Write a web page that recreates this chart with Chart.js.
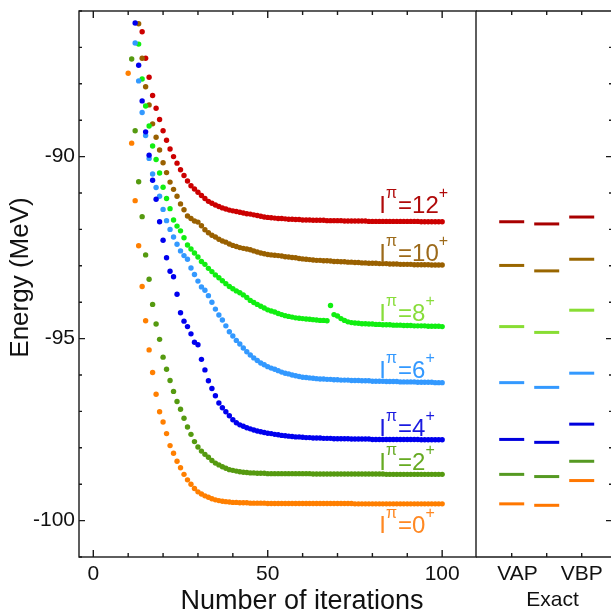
<!DOCTYPE html>
<html><head><meta charset="utf-8">
<script src="https://cdn.jsdelivr.net/npm/chart.js@4.4.1/dist/chart.umd.min.js"></script>
<style>
html,body{margin:0;padding:0;background:#fff;}
#wrap{position:relative;width:611px;height:616px;overflow:hidden;background:#fff;}
#c1{position:absolute;left:0;top:0;}
#c2{position:absolute;left:476px;top:0;}
</style></head><body>
<div id="wrap"><canvas id="c1" width="477" height="616"></canvas><canvas id="c2" width="137" height="616"></canvas></div>
<script>
// ---------- data ----------
const states = ['0', '2', '4', '6', '8', '10', '12'];
const startIter = [10, 11, 12, 12, 13, 13, 14];

const e0 = [-87.71,-89.63,-91.21,-92.45,-93.57,-94.51,-95.31,-95.93,-96.53,-97.01,
 -97.29,-97.61,-97.94,-98.15,-98.37,-98.55,-98.73,-98.88,-99.00,-99.12,
 -99.21,-99.27,-99.32,-99.36,-99.40,-99.43,-99.45,-99.47,-99.48,-99.49,
 -99.50,-99.50,-99.51,-99.51,-99.51,-99.52,-99.52,-99.52,-99.52,-99.52,
 -99.53,-99.53,-99.53,-99.53,-99.53,-99.53,-99.53,-99.53,-99.53,-99.53,
 -99.53,-99.53,-99.53,-99.53,-99.53,-99.53,-99.53,-99.53,-99.53,-99.53,
 -99.53,-99.53,-99.53,-99.53,-99.53,-99.54,-99.54,-99.54,-99.54,-99.54,
 -99.54,-99.54,-99.54,-99.54,-99.54,-99.54,-99.54,-99.54,-99.54,-99.54,
 -99.54,-99.54,-99.54,-99.54,-99.54,-99.54,-99.54,-99.54,-99.54,-99.54,-99.54];

const e2 = [-87.32,-89.29,-90.69,-91.65,-92.70,-93.37,-94.06,-94.60,-95.02,-95.51,
 -95.84,-96.15,-96.45,-96.73,-96.94,-97.19,-97.43,-97.63,-97.83,-97.98,
 -98.09,-98.18,-98.26,-98.35,-98.42,-98.47,-98.52,-98.56,-98.60,-98.62,
 -98.64,-98.66,-98.67,-98.68,-98.69,-98.69,-98.70,-98.70,-98.70,-98.71,
 -98.71,-98.71,-98.71,-98.71,-98.71,-98.71,-98.71,-98.71,-98.71,-98.71,
 -98.71,-98.71,-98.72,-98.72,-98.72,-98.72,-98.72,-98.72,-98.72,-98.72,
 -98.72,-98.72,-98.72,-98.72,-98.72,-98.72,-98.72,-98.72,-98.72,-98.72,
 -98.72,-98.72,-98.72,-98.73,-98.73,-98.73,-98.73,-98.73,-98.73,-98.73,
 -98.73,-98.73,-98.73,-98.73,-98.73,-98.73,-98.73,-98.73,-98.73,-98.73];

const e4 = [-86.33,-87.49,-88.47,-89.32,-89.96,-90.65,-91.17,-91.79,-92.30,-92.78,
 -93.15,-93.30,-93.78,-94.29,-94.52,-94.67,-94.87,-95.10,-95.17,-95.57,
 -95.86,-96.16,-96.37,-96.57,-96.77,-96.90,-97.01,-97.12,-97.23,-97.31,
 -97.37,-97.41,-97.45,-97.48,-97.51,-97.54,-97.56,-97.58,-97.60,-97.61,
 -97.63,-97.64,-97.66,-97.67,-97.68,-97.69,-97.70,-97.70,-97.71,-97.72,
 -97.72,-97.73,-97.73,-97.73,-97.74,-97.74,-97.74,-97.75,-97.75,-97.75,
 -97.75,-97.75,-97.76,-97.76,-97.76,-97.76,-97.76,-97.76,-97.77,-97.77,
 -97.77,-97.77,-97.77,-97.77,-97.77,-97.77,-97.77,-97.77,-97.77,-97.77,
 -97.77,-97.77,-97.78,-97.78,-97.78,-97.78,-97.78,-97.78,-97.78];

const e6 = [-86.88,-87.92,-88.79,-89.42,-90.05,-90.48,-90.85,-91.09,-91.45,-91.76,
 -92.00,-92.21,-92.41,-92.59,-92.72,-92.82,-93.06,-93.24,-93.42,-93.58,
 -93.67,-93.82,-94.00,-94.19,-94.35,-94.49,-94.65,-94.81,-94.93,-95.05,
 -95.15,-95.26,-95.36,-95.45,-95.53,-95.60,-95.67,-95.72,-95.77,-95.81,
 -95.84,-95.88,-95.92,-95.95,-95.97,-96.00,-96.02,-96.04,-96.06,-96.07,
 -96.08,-96.09,-96.10,-96.11,-96.11,-96.12,-96.12,-96.13,-96.13,-96.14,
 -96.14,-96.14,-96.15,-96.15,-96.15,-96.16,-96.16,-96.16,-96.17,-96.17,
 -96.17,-96.17,-96.18,-96.18,-96.18,-96.18,-96.19,-96.19,-96.19,-96.19,
 -96.19,-96.20,-96.20,-96.20,-96.20,-96.20,-96.21,-96.21,-96.21];

const e8 = [-86.91,-87.87,-88.61,-89.16,-89.71,-90.08,-90.45,-90.84,-91.15,-91.43,
 -91.74,-91.91,-92.04,-92.23,-92.43,-92.54,-92.65,-92.76,-92.88,-92.96,
 -93.07,-93.16,-93.25,-93.33,-93.41,-93.49,-93.57,-93.63,-93.69,-93.74,
 -93.80,-93.87,-93.95,-94.01,-94.06,-94.11,-94.16,-94.21,-94.24,-94.27,
 -94.31,-94.34,-94.37,-94.39,-94.41,-94.43,-94.44,-94.45,-94.46,-94.47,
 -94.48,-94.49,-94.50,-94.50,-94.51,-94.09,-94.34,-94.38,-94.45,-94.50,
 -94.54,-94.56,-94.57,-94.58,-94.59,-94.59,-94.60,-94.60,-94.61,-94.61,
 -94.62,-94.62,-94.62,-94.63,-94.63,-94.63,-94.64,-94.64,-94.64,-94.65,
 -94.65,-94.65,-94.65,-94.66,-94.66,-94.66,-94.66,-94.67];

const e10 = [-86.35,-87.30,-88.08,-88.58,-89.10,-89.47,-89.82,-90.17,-90.44,-90.70,
 -90.90,-91.09,-91.30,-91.46,-91.63,-91.70,-91.77,-91.80,-91.90,-92.01,
 -92.09,-92.16,-92.21,-92.27,-92.32,-92.35,-92.40,-92.44,-92.47,-92.50,
 -92.52,-92.54,-92.56,-92.59,-92.62,-92.65,-92.67,-92.69,-92.70,-92.71,
 -92.72,-92.73,-92.75,-92.76,-92.77,-92.78,-92.80,-92.81,-92.82,-92.83,
 -92.84,-92.85,-92.85,-92.86,-92.86,-92.87,-92.88,-92.88,-92.89,-92.89,
 -92.90,-92.90,-92.91,-92.91,-92.92,-92.92,-92.93,-92.93,-92.93,-92.94,
 -92.94,-92.94,-92.95,-92.95,-92.95,-92.96,-92.96,-92.96,-92.96,-92.97,
 -92.97,-92.97,-92.97,-92.97,-92.98,-92.98,-92.98,-92.98];

const e12 = [-86.57,-87.30,-87.82,-88.32,-88.67,-88.98,-89.29,-89.55,-89.79,-90.00,
 -90.18,-90.36,-90.52,-90.67,-90.80,-90.89,-90.98,-91.07,-91.15,-91.23,
 -91.28,-91.33,-91.37,-91.41,-91.44,-91.47,-91.49,-91.51,-91.53,-91.55,
 -91.57,-91.58,-91.60,-91.62,-91.64,-91.66,-91.67,-91.68,-91.69,-91.70,
 -91.70,-91.71,-91.72,-91.72,-91.73,-91.73,-91.74,-91.74,-91.74,-91.75,
 -91.75,-91.75,-91.75,-91.76,-91.76,-91.76,-91.76,-91.76,-91.77,-91.77,
 -91.77,-91.77,-91.77,-91.77,-91.77,-91.78,-91.78,-91.78,-91.78,-91.78,
 -91.78,-91.78,-91.78,-91.78,-91.78,-91.78,-91.78,-91.78,-91.78,-91.78,
 -91.79,-91.79,-91.79,-91.79,-91.79,-91.79,-91.79];

// converged levels (right panel), order 0+,2+,...,12+
const methodNames = ['VAP', 'Exact', 'VBP'];
const vap   = [-99.54, -98.73, -97.77, -96.21, -94.67, -92.99, -91.79];
const exact = [-99.58, -98.79, -97.85, -96.34, -94.83, -93.14, -91.85];
const vbp   = [-98.90, -98.37, -97.35, -95.95, -94.22, -92.82, -91.66];

// ticks
const xTickValues = [0, 10, 20, 30, 40, 50, 60, 70, 80, 90, 100];
const xTickLabels = {0: '0', 50: '50', 100: '100'};
const yTickValues = [-101,-100,-99,-98,-97,-96,-95,-94,-93,-92,-91,-90,-89,-88,-87,-86];
const yTickLabels = {'-100': '-100', '-95': '-95', '-90': '-90'};
const xTitle = 'Number of iterations';
const yTitle = 'Energy (MeV)';

// ---------- styles ----------
const pointColors = ['#ff7f00', '#559a10', '#0000ee', '#3399ff', '#11ee11', '#996000', '#cc0000'];
const labelColors = ['#ff8822', '#66aa22', '#1a1ae0', '#3399ff', '#88dd3a', '#9c6a1a', '#b00a0a'];
const levelColors = ['#ff7700', '#559922', '#0000dd', '#3399ff', '#88dd33', '#996600', '#a80000'];
const labelX = 82;
const labelY = [-100.35, -98.61, -97.67, -96.07, -94.51, -92.87, -91.55];

const F = "'Liberation Sans', Arial, Helvetica, sans-serif";
Chart.defaults.font.family = F;
Chart.defaults.color = '#111';

const energies = [e0, e2, e4, e6, e8, e10, e12];
const noPad = s => { s.paddingTop = 0; s.paddingBottom = 0; s.paddingLeft = 0; s.paddingRight = 0; };

const frame1 = {
  id: 'frame1',
  afterDatasetsDraw(chart) {
    const {ctx, chartArea: a, scales: {x, y}} = chart;
    ctx.save();
    ctx.strokeStyle = '#1a1a1a';
    ctx.lineWidth = 1.4;
    ctx.strokeRect(a.left, a.top, a.right - a.left, a.bottom - a.top);
    ctx.beginPath();
    x.ticks.forEach(t => {
      const px = x.getPixelForValue(t.value);
      const L = t.value % 50 === 0 ? 7 : 4;
      ctx.moveTo(px, a.bottom); ctx.lineTo(px, a.bottom - L);
      ctx.moveTo(px, a.top); ctx.lineTo(px, a.top + L);
    });
    y.ticks.forEach(t => {
      const py = y.getPixelForValue(t.value);
      const L = t.value % 5 === 0 ? 6 : 3;
      ctx.moveTo(a.left, py); ctx.lineTo(a.left + L, py);
    });
    ctx.stroke();
    // axis titles
    ctx.fillStyle = '#111';
    ctx.font = '27px ' + F;
    ctx.textAlign = 'center';
    ctx.textBaseline = 'alphabetic';
    ctx.fillText(xTitle, 302, 609);
    ctx.font = '26px ' + F;
    ctx.translate(21, 277.5);
    ctx.rotate(-Math.PI / 2);
    ctx.textBaseline = 'middle';
    ctx.fillText(yTitle, 0, 0);
    ctx.restore();
  }
};

const stateLabels = {
  id: 'stateLabels',
  afterDatasetsDraw(chart) {
    const {ctx, scales: {x, y}} = chart;
    ctx.save();
    ctx.textAlign = 'left';
    ctx.textBaseline = 'alphabetic';
    states.forEach((s, k) => {
      let px = x.getPixelForValue(labelX);
      const py = y.getPixelForValue(labelY[k]);
      ctx.fillStyle = labelColors[k];
      ctx.font = '24px ' + F;
      ctx.fillText('I', px, py); px += ctx.measureText('I').width;
      ctx.font = '16px ' + F;
      ctx.fillText('\u03C0', px, py - 15); px += ctx.measureText('\u03C0').width + 1;
      ctx.font = '24px ' + F;
      const t = '=' + s;
      ctx.fillText(t, px, py); px += ctx.measureText(t).width;
      ctx.font = '16px ' + F;
      ctx.fillText('+', px, py - 15);
    });
    ctx.restore();
  }
};

new Chart(document.getElementById('c1'), {
  type: 'scatter',
  data: {
    datasets: energies.map((arr, k) => ({
      label: 'I\u03C0=' + states[k] + '+',
      data: arr.map((v, i) => ({x: startIter[k] + i, y: v})),
      backgroundColor: pointColors[k],
      borderWidth: 0,
      pointRadius: 2.7,
      pointHoverRadius: 2.7
    }))
  },
  options: {
    responsive: false,
    devicePixelRatio: 1,
    animation: false,
    events: [],
    layout: {autoPadding: false, padding: {left: 0, right: 1, top: 11, bottom: 0}},
    plugins: {legend: {display: false}, tooltip: {enabled: false}},
    scales: {
      x: {
        type: 'linear', min: -4.1, max: 109.7,
        afterBuildTicks: s => { s.ticks = xTickValues.map(v => ({value: v})); },
        afterFit: s => { s.height = 59; noPad(s); },
        grid: {display: false, drawTicks: false},
        border: {display: false},
        ticks: {autoSkip: false, maxRotation: 0, padding: 5, color: '#111',
                font: {size: 21}, callback: v => xTickLabels[v] || ''}
      },
      y: {
        type: 'linear', min: -101, max: -86,
        afterBuildTicks: s => { s.ticks = yTickValues.map(v => ({value: v})); },
        afterFit: s => { s.width = 79; noPad(s); },
        grid: {display: false, drawTicks: false},
        border: {display: false},
        ticks: {autoSkip: false, padding: 4, color: '#111',
                font: {size: 21}, callback: v => yTickLabels[String(v)] || ''}
      }
    }
  },
  plugins: [frame1, stateLabels]
});

const frame2 = {
  id: 'frame2',
  afterDatasetsDraw(chart) {
    const {ctx, chartArea: a, scales: {x, y}} = chart;
    ctx.save();
    ctx.strokeStyle = '#1a1a1a';
    ctx.lineWidth = 1.4;
    ctx.beginPath();
    ctx.moveTo(a.left, a.top); ctx.lineTo(a.right, a.top);
    ctx.moveTo(a.left, a.bottom); ctx.lineTo(a.right, a.bottom);
    ctx.moveTo(a.right, a.top); ctx.lineTo(a.right, a.bottom);
    x.ticks.forEach(t => {
      const px = x.getPixelForValue(t.value);
      ctx.moveTo(px, a.bottom); ctx.lineTo(px, a.bottom - 4);
      ctx.moveTo(px, a.top); ctx.lineTo(px, a.top + 4);
    });
    y.ticks.forEach(t => {
      const py = y.getPixelForValue(t.value);
      const L = t.value % 5 === 0 ? 7 : 4;
      ctx.moveTo(a.right, py); ctx.lineTo(a.right - L, py);
    });
    ctx.stroke();
    ctx.restore();
  }
};

new Chart(document.getElementById('c2'), {
  type: 'scatter',
  data: {
    datasets: states.map((s, k) => ({
      label: s + '+',
      data: [vap[k], exact[k], vbp[k]].map((v, j) => ({x: j + 1, y: v})),
      pointStyle: 'line',
      pointRadius: 12.5,
      pointHoverRadius: 12.5,
      pointBorderWidth: 3,
      pointBorderColor: levelColors[k],
      borderColor: levelColors[k],
      backgroundColor: levelColors[k]
    }))
  },
  options: {
    responsive: false,
    devicePixelRatio: 1,
    animation: false,
    events: [],
    layout: {autoPadding: false, padding: {left: 0, right: 0, top: 11, bottom: 0}},
    plugins: {legend: {display: false}, tooltip: {enabled: false}},
    scales: {
      x: {
        type: 'linear', min: -0.02, max: 3.894,
        afterBuildTicks: s => { s.ticks = [1, 2, 3].map(v => ({value: v})); },
        afterFit: s => { s.height = 59; noPad(s); },
        grid: {display: false, drawTicks: false},
        border: {display: false},
        ticks: {autoSkip: false, maxRotation: 0, padding: 5, color: '#111',
                font: {size: 21},
                callback: v => v === 1 ? '  ' + methodNames[0]
                             : v === 2 ? ['', '  ' + methodNames[1]]
                             : methodNames[2]}
      },
      y: {
        type: 'linear', position: 'right', min: -101, max: -86,
        afterBuildTicks: s => { s.ticks = yTickValues.map(v => ({value: v})); },
        afterFit: s => { s.width = 0; noPad(s); },
        grid: {display: false, drawTicks: false},
        border: {display: false},
        ticks: {display: false}
      }
    }
  },
  plugins: [frame2]
});
</script>
</body></html>
